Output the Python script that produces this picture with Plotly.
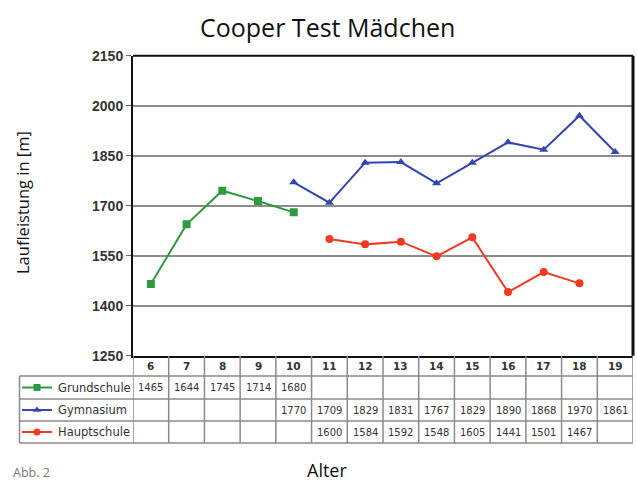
import plotly.graph_objects as go

ages = ["6", "7", "8", "9", "10", "11", "12", "13", "14", "15", "16", "17", "18", "19"]
grundschule = [1465, 1644, 1745, 1714, 1680, None, None, None, None, None, None, None, None, None]
gymnasium = [None, None, None, None, 1770, 1709, 1829, 1831, 1767, 1829, 1890, 1868, 1970, 1861]
hauptschule = [None, None, None, None, None, 1600, 1584, 1592, 1548, 1605, 1441, 1501, 1467, None]
series_names = ["Grundschule", "Gymnasium", "Hauptschule"]
y_ticks = [1250, 1400, 1550, 1700, 1850, 2000, 2150]

W, H = 637, 484
colors = ["#2f9a40", "#3447b0", "#f03a22"]
symbols = ["square", "triangle-up", "circle"]
series = [grundschule, gymnasium, hauptschule]

def py(px):
    return 1 - px / H

x_dom = [133 / W, 633 / W]
y_dom = [py(355.7), py(55.7)]
idx = list(range(len(ages)))

fig = go.Figure()
for name, vals, c, s in zip(series_names, series, colors, symbols):
    fig.add_trace(go.Scatter(x=idx, y=vals, mode="lines+markers", name=name,
                             line=dict(color=c, width=2),
                             marker=dict(color=c, symbol=s, size=8),
                             connectgaps=False, showlegend=False,
                             xaxis="x", yaxis="y"))

row_edges = [355.7, 376, 399, 421, 443]
table_left = 19.5
shapes = []
line_c = "#8a8a8a"
for i, r in enumerate(row_edges):
    if i == 0:
        continue
    shapes.append(dict(type="line", xref="paper", yref="paper", x0=table_left / W, x1=633 / W,
                       y0=py(r), y1=py(r), line=dict(color=line_c, width=1.5)))
shapes.append(dict(type="line", xref="paper", yref="paper", x0=table_left / W, x1=table_left / W,
                   y0=py(row_edges[1]), y1=py(row_edges[-1]), line=dict(color=line_c, width=1.5)))
for k in range(len(ages) + 1):
    shapes.append(dict(type="line", xref="x", yref="paper", x0=k - 0.5, x1=k - 0.5,
                       y0=py(row_edges[0]), y1=py(row_edges[-1]), line=dict(color=line_c, width=1.5)))
shapes.append(dict(type="line", xref="paper", yref="paper", x0=133 / W, x1=633 / W,
                   y0=py(55.7), y1=py(55.7), line=dict(color="#111", width=2)))
shapes.append(dict(type="line", xref="paper", yref="paper", x0=633 / W, x1=633 / W,
                   y0=py(55.7), y1=py(355.7), line=dict(color="#111", width=3)))

annotations = []
cell_font = dict(family="DejaVu Sans", size=10, color="#333")
hc = (row_edges[0] + row_edges[1]) / 2
for i, a in enumerate(ages):
    annotations.append(dict(x=i, y=py(hc), xref="x", yref="paper", text="<b>" + a + "</b>",
                            xanchor="center", yanchor="middle", showarrow=False,
                            font=dict(family="DejaVu Sans", size=10.5, color="#333")))
for r, (name, vals, c, s) in enumerate(zip(series_names, series, colors, symbols)):
    rc = (row_edges[r + 1] + row_edges[r + 2]) / 2
    for i, v in enumerate(vals):
        if v is not None:
            annotations.append(dict(x=i, y=py(rc), xref="x", yref="paper", text=str(v),
                                    xanchor="center", yanchor="middle", showarrow=False, font=cell_font))
    annotations.append(dict(x=56 / W, y=py(rc), xref="paper", yref="paper", text=name,
                            xanchor="left", yanchor="middle", showarrow=False,
                            font=dict(family="DejaVu Sans", size=11.5, color="#333")))
    fig.add_trace(go.Scatter(x=[22, 52], y=[rc, rc], mode="lines", line=dict(color=c, width=2),
                             xaxis="x2", yaxis="y2", showlegend=False, hoverinfo="skip"))
    fig.add_trace(go.Scatter(x=[37], y=[rc], mode="markers", marker=dict(color=c, symbol=s, size=7),
                             xaxis="x2", yaxis="y2", showlegend=False, hoverinfo="skip"))

annotations += [
    dict(x=327 / W, y=py(27), xref="paper", yref="paper", text="Cooper Test Mädchen", showarrow=False,
         xanchor="center", yanchor="middle", font=dict(family="Open Sans", size=25, color="#111")),
    dict(x=22 / W, y=py(203), xref="paper", yref="paper", text="Laufleistung in [m]", showarrow=False,
         xanchor="center", yanchor="middle", textangle=-90,
         font=dict(family="Open Sans", size=16.5, color="#111")),
    dict(x=327 / W, y=0, xref="paper", yref="paper", text="Alter", showarrow=False,
         xanchor="center", yanchor="bottom", font=dict(family="Open Sans", size=18, color="#111")),
    dict(x=11 / W, y=0.002, xref="paper", yref="paper", text="Abb. 2", showarrow=False,
         xanchor="left", yanchor="bottom", font=dict(family="Open Sans", size=12.5, color="#777")),
]

fig.update_layout(
    width=W, height=H, margin=dict(l=0, r=0, t=0, b=0),
    paper_bgcolor="white", plot_bgcolor="rgba(0,0,0,0)",
    xaxis=dict(domain=x_dom, range=[-0.5, len(ages) - 0.5], showticklabels=False, showgrid=False,
               zeroline=False, showline=True, linecolor="#111", linewidth=2, ticks="", automargin=False),
    yaxis=dict(domain=y_dom, range=[1250, 2150], tickvals=y_ticks, showgrid=True, gridcolor="#8c8c8c",
               gridwidth=2, zeroline=False, showline=True, linecolor="#111", linewidth=2,
               ticks="outside", ticklen=5, tickcolor="#666", automargin=False,
               tickfont=dict(family="Liberation Sans", size=14, color="#333", weight="bold")),
    xaxis2=dict(domain=[0, 1], range=[0, W], visible=False, anchor="y2", automargin=False),
    yaxis2=dict(domain=[0, 1], range=[H, 0], visible=False, anchor="x2", automargin=False),
    shapes=shapes, annotations=annotations,
)
fig.write_html("out.html", config={"displayModeBar": False},
               post_script="document.body.style.margin='0';")
